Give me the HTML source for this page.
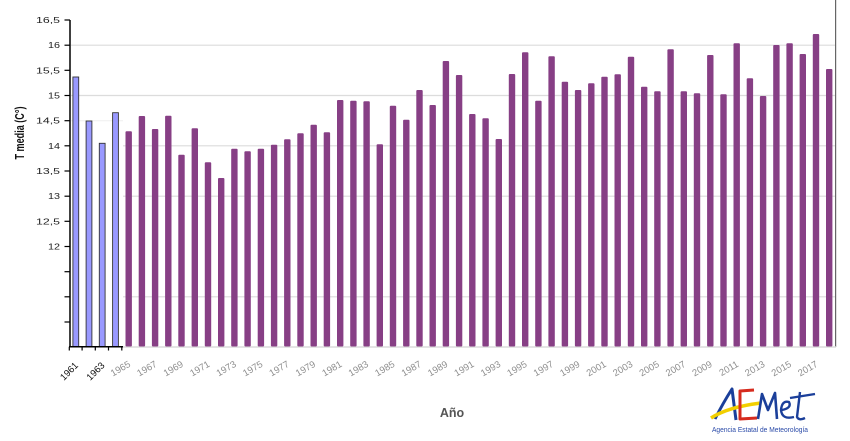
<!DOCTYPE html>
<html><head><meta charset="utf-8"><style>
html,body{margin:0;padding:0;background:#fff;}
svg{display:block;font-family:"Liberation Sans",Arial,sans-serif;}
</style></head><body>
<svg width="850" height="441" viewBox="0 0 850 441" xmlns="http://www.w3.org/2000/svg">
<rect x="0" y="0" width="850" height="441" fill="#fff"/>
<g stroke="#dcdcdc" stroke-width="1.2">
<line x1="71" y1="45.2" x2="835" y2="45.2"/>
<line x1="71" y1="95.5" x2="835" y2="95.5"/>
<line x1="123" y1="145.8" x2="835" y2="145.8"/>
<line x1="123" y1="196.2" x2="835" y2="196.2"/>
<line x1="123" y1="296.8" x2="835" y2="296.8"/>
</g>
<line x1="71" y1="120.7" x2="123" y2="120.7" stroke="#efefef" stroke-width="1"/>
<line x1="835.6" y1="0" x2="835.6" y2="347" stroke="#666" stroke-width="1.2"/>
<line x1="123" y1="347" x2="836" y2="347" stroke="#dcdcdc" stroke-width="1.5"/>
<g fill="#9999ff" stroke="#333" stroke-width="0.9">
<rect x="72.9" y="77" width="5.8" height="269.5"/>
<rect x="86.1" y="121" width="5.8" height="225.5"/>
<rect x="99.3" y="143.3" width="5.8" height="203.2"/>
<rect x="112.6" y="112.7" width="5.8" height="233.8"/>
</g>
<g fill="#873f85">
<rect x="125.5" y="131.3" width="6.4" height="215.2" rx="1"/>
<rect x="138.7" y="116" width="6.4" height="230.5" rx="1"/>
<rect x="151.9" y="129" width="6.4" height="217.5" rx="1"/>
<rect x="165.1" y="115.7" width="6.4" height="230.8" rx="1"/>
<rect x="178.3" y="154.7" width="6.4" height="191.8" rx="1"/>
<rect x="191.6" y="128.3" width="6.4" height="218.2" rx="1"/>
<rect x="204.8" y="162.3" width="6.4" height="184.2" rx="1"/>
<rect x="218.0" y="178" width="6.4" height="168.5" rx="1"/>
<rect x="231.2" y="148.7" width="6.4" height="197.8" rx="1"/>
<rect x="244.4" y="151.3" width="6.4" height="195.2" rx="1"/>
<rect x="257.7" y="148.7" width="6.4" height="197.8" rx="1"/>
<rect x="270.9" y="144.7" width="6.4" height="201.8" rx="1"/>
<rect x="284.1" y="139.3" width="6.4" height="207.2" rx="1"/>
<rect x="297.3" y="133.3" width="6.4" height="213.2" rx="1"/>
<rect x="310.5" y="124.7" width="6.4" height="221.8" rx="1"/>
<rect x="323.7" y="132.3" width="6.4" height="214.2" rx="1"/>
<rect x="337.0" y="100" width="6.4" height="246.5" rx="1"/>
<rect x="350.2" y="100.7" width="6.4" height="245.8" rx="1"/>
<rect x="363.4" y="101.3" width="6.4" height="245.2" rx="1"/>
<rect x="376.6" y="144.3" width="6.4" height="202.2" rx="1"/>
<rect x="389.8" y="105.7" width="6.4" height="240.8" rx="1"/>
<rect x="403.1" y="119.7" width="6.4" height="226.8" rx="1"/>
<rect x="416.3" y="90" width="6.4" height="256.5" rx="1"/>
<rect x="429.5" y="105" width="6.4" height="241.5" rx="1"/>
<rect x="442.7" y="61" width="6.4" height="285.5" rx="1"/>
<rect x="455.9" y="75" width="6.4" height="271.5" rx="1"/>
<rect x="469.1" y="114" width="6.4" height="232.5" rx="1"/>
<rect x="482.4" y="118.3" width="6.4" height="228.2" rx="1"/>
<rect x="495.6" y="139" width="6.4" height="207.5" rx="1"/>
<rect x="508.8" y="74" width="6.4" height="272.5" rx="1"/>
<rect x="522.0" y="52.3" width="6.4" height="294.2" rx="1"/>
<rect x="535.2" y="100.7" width="6.4" height="245.8" rx="1"/>
<rect x="548.4" y="56.3" width="6.4" height="290.2" rx="1"/>
<rect x="561.7" y="81.7" width="6.4" height="264.8" rx="1"/>
<rect x="574.9" y="90" width="6.4" height="256.5" rx="1"/>
<rect x="588.1" y="83.3" width="6.4" height="263.2" rx="1"/>
<rect x="601.3" y="76.7" width="6.4" height="269.8" rx="1"/>
<rect x="614.5" y="74.3" width="6.4" height="272.2" rx="1"/>
<rect x="627.8" y="56.7" width="6.4" height="289.8" rx="1"/>
<rect x="641.0" y="86.7" width="6.4" height="259.8" rx="1"/>
<rect x="654.2" y="91.3" width="6.4" height="255.2" rx="1"/>
<rect x="667.4" y="49.3" width="6.4" height="297.2" rx="1"/>
<rect x="680.6" y="91.3" width="6.4" height="255.2" rx="1"/>
<rect x="693.8" y="93.3" width="6.4" height="253.2" rx="1"/>
<rect x="707.1" y="55" width="6.4" height="291.5" rx="1"/>
<rect x="720.3" y="94.3" width="6.4" height="252.2" rx="1"/>
<rect x="733.5" y="43.3" width="6.4" height="303.2" rx="1"/>
<rect x="746.7" y="78.3" width="6.4" height="268.2" rx="1"/>
<rect x="759.9" y="96" width="6.4" height="250.5" rx="1"/>
<rect x="773.2" y="45" width="6.4" height="301.5" rx="1"/>
<rect x="786.4" y="43.3" width="6.4" height="303.2" rx="1"/>
<rect x="799.6" y="54" width="6.4" height="292.5" rx="1"/>
<rect x="812.8" y="34" width="6.4" height="312.5" rx="1"/>
<rect x="826.0" y="69" width="6.4" height="277.5" rx="1"/>
</g>
<line x1="70" y1="20" x2="70" y2="347.5" stroke="#000" stroke-width="1.5"/>
<g stroke="#000" stroke-width="1.2">
<line x1="64.5" y1="20" x2="70" y2="20"/>
<line x1="64.5" y1="45.2" x2="70" y2="45.2"/>
<line x1="64.5" y1="70.3" x2="70" y2="70.3"/>
<line x1="64.5" y1="95.5" x2="70" y2="95.5"/>
<line x1="64.5" y1="120.7" x2="70" y2="120.7"/>
<line x1="64.5" y1="145.8" x2="70" y2="145.8"/>
<line x1="64.5" y1="171" x2="70" y2="171"/>
<line x1="64.5" y1="196.2" x2="70" y2="196.2"/>
<line x1="64.5" y1="221.3" x2="70" y2="221.3"/>
<line x1="64.5" y1="246.5" x2="70" y2="246.5"/>
<line x1="64.5" y1="271.7" x2="70" y2="271.7"/>
<line x1="64.5" y1="296.8" x2="70" y2="296.8"/>
<line x1="64.5" y1="322" x2="70" y2="322"/>
</g>
<line x1="69" y1="346.8" x2="123" y2="346.8" stroke="#000" stroke-width="1.5"/>
<g stroke="#000" stroke-width="1.2">
<line x1="69.3" y1="346.8" x2="69.3" y2="350.5"/>
<line x1="82.1" y1="346.8" x2="82.1" y2="350.5"/>
<line x1="95.3" y1="346.8" x2="95.3" y2="350.5"/>
<line x1="108.5" y1="346.8" x2="108.5" y2="350.5"/>
<line x1="121.8" y1="346.8" x2="121.8" y2="350.5"/>
</g>
<g font-size="8.5" fill="#222" text-anchor="end">
<text x="60" y="23" textLength="24" lengthAdjust="spacingAndGlyphs">16,5</text>
<text x="60" y="48.2" textLength="12" lengthAdjust="spacingAndGlyphs">16</text>
<text x="60" y="73.3" textLength="24" lengthAdjust="spacingAndGlyphs">15,5</text>
<text x="60" y="98.5" textLength="12" lengthAdjust="spacingAndGlyphs">15</text>
<text x="60" y="123.7" textLength="24" lengthAdjust="spacingAndGlyphs">14,5</text>
<text x="60" y="148.8" textLength="12" lengthAdjust="spacingAndGlyphs">14</text>
<text x="60" y="174" textLength="24" lengthAdjust="spacingAndGlyphs">13,5</text>
<text x="60" y="199.2" textLength="12" lengthAdjust="spacingAndGlyphs">13</text>
<text x="60" y="224.3" textLength="24" lengthAdjust="spacingAndGlyphs">12,5</text>
<text x="60" y="249.5" textLength="12" lengthAdjust="spacingAndGlyphs">12</text>
</g>
<text transform="translate(24,133) rotate(-90)" text-anchor="middle" font-size="12.5" font-weight="bold" fill="#111" textLength="53" lengthAdjust="spacingAndGlyphs">T media (C°)</text>
<g font-size="9.5" fill="#111" text-anchor="end">
<text transform="translate(78.8,366) rotate(-45)">1961</text>
<text transform="translate(105.2,366) rotate(-45)">1963</text>
</g>
<g font-size="9.5" fill="#8f8f8f" text-anchor="end">
<text transform="translate(131.2,366) rotate(-30)">1965</text>
<text transform="translate(157.6,366) rotate(-30)">1967</text>
<text transform="translate(184.0,366) rotate(-30)">1969</text>
<text transform="translate(210.5,366) rotate(-30)">1971</text>
<text transform="translate(236.9,366) rotate(-30)">1973</text>
<text transform="translate(263.4,366) rotate(-30)">1975</text>
<text transform="translate(289.8,366) rotate(-30)">1977</text>
<text transform="translate(316.2,366) rotate(-30)">1979</text>
<text transform="translate(342.7,366) rotate(-30)">1981</text>
<text transform="translate(369.1,366) rotate(-30)">1983</text>
<text transform="translate(395.5,366) rotate(-30)">1985</text>
<text transform="translate(422.0,366) rotate(-30)">1987</text>
<text transform="translate(448.4,366) rotate(-30)">1989</text>
<text transform="translate(474.8,366) rotate(-30)">1991</text>
<text transform="translate(501.3,366) rotate(-30)">1993</text>
<text transform="translate(527.7,366) rotate(-30)">1995</text>
<text transform="translate(554.1,366) rotate(-30)">1997</text>
<text transform="translate(580.6,366) rotate(-30)">1999</text>
<text transform="translate(607.0,366) rotate(-30)">2001</text>
<text transform="translate(633.5,366) rotate(-30)">2003</text>
<text transform="translate(659.9,366) rotate(-30)">2005</text>
<text transform="translate(686.3,366) rotate(-30)">2007</text>
<text transform="translate(712.8,366) rotate(-30)">2009</text>
<text transform="translate(739.2,366) rotate(-30)">2011</text>
<text transform="translate(765.6,366) rotate(-30)">2013</text>
<text transform="translate(792.1,366) rotate(-30)">2015</text>
<text transform="translate(818.5,366) rotate(-30)">2017</text>
</g>
<text x="452" y="417" text-anchor="middle" font-size="12.5" font-weight="bold" fill="#555">Año</text>
<g fill="none" stroke-linejoin="round">
<path d="M715 419 Q723 403 732 389 Q734 405 736 420" stroke="#1b3f9a" stroke-width="3"/>
<path d="M711 418 Q728 407 761 403" stroke="#f2cf00" stroke-width="3.5"/>
<path d="M754 390 L740 391 L740 419 L757 418" stroke="#d62b1e" stroke-width="3"/>
<path d="M758 419 L762 394 L768 410 L775 393 L777 419" stroke="#1b3f9a" stroke-width="2.6"/>
<path d="M782 410 Q792 408 789 402 Q782 400 781 410 Q782 420 794 417" stroke="#1b3f9a" stroke-width="2.4"/>
<path d="M800 392 L797 417 Q799 421 805 418 M790 398 L815 394" stroke="#1b3f9a" stroke-width="2.4"/>
</g>
<text x="712" y="432" font-size="7" fill="#2a4aa8" textLength="96" lengthAdjust="spacingAndGlyphs">Agencia Estatal de Meteorología</text>
</svg>
</body></html>
